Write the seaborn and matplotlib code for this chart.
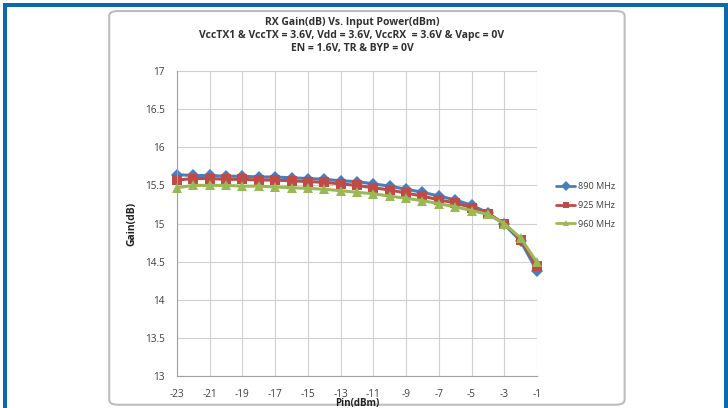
"""
RX gain vs. input power for three frequencies, styled like an Excel chart.
"""

import matplotlib.pyplot as plt
import matplotlib.patches as mpatches
import numpy as np
import pandas as pd
import seaborn as sns
from matplotlib.ticker import MultipleLocator

# ---------------------------------------------------------------------------
# Data
# ---------------------------------------------------------------------------

pin_dbm = [-23, -22, -21, -20, -19, -18, -17, -16, -15, -14, -13, -12,
           -11, -10, -9, -8, -7, -6, -5, -4, -3, -2, -1]

gain_890 = [15.64, 15.63, 15.63, 15.62, 15.62, 15.61, 15.61, 15.60, 15.59,
            15.58, 15.56, 15.55, 15.52, 15.49, 15.45, 15.41, 15.36, 15.31,
            15.24, 15.14, 14.99, 14.77, 14.38]
gain_925 = [15.57, 15.59, 15.59, 15.58, 15.58, 15.57, 15.57, 15.56, 15.55,
            15.54, 15.52, 15.50, 15.47, 15.44, 15.40, 15.36, 15.31, 15.27,
            15.21, 15.13, 15.00, 14.79, 14.44]
gain_960 = [15.47, 15.50, 15.50, 15.50, 15.49, 15.49, 15.48, 15.47, 15.46,
            15.45, 15.43, 15.41, 15.39, 15.36, 15.33, 15.30, 15.26, 15.22,
            15.17, 15.12, 15.00, 14.81, 14.49]

series_names = ["890 MHz", "925 MHz", "960 MHz"]
series_colors = ["#4A7EBB", "#BE4B48", "#98B954"]
series_markers = ["D", "s", "^"]

x_ticks = [-23, -21, -19, -17, -15, -13, -11, -9, -7, -5, -3, -1]

title_lines = [
    "RX Gain(dB) Vs. Input Power(dBm)",
    "VccTX1 & VccTX = 3.6V, Vdd = 3.6V, VccRX  = 3.6V & Vapc = 0V",
    "EN = 1.6V, TR & BYP = 0V",
]

# ---------------------------------------------------------------------------
# Tidy frame
# ---------------------------------------------------------------------------

df = pd.concat(
    [
        pd.DataFrame({"Pin": pin_dbm, "Gain": g, "Freq": name})
        for name, g in zip(series_names, [gain_890, gain_925, gain_960])
    ],
    ignore_index=True,
)

# ---------------------------------------------------------------------------
# Figure
# ---------------------------------------------------------------------------

sns.set_style("white")
plt.rcParams["font.family"] = ["Open Sans", "DejaVu Sans"]
plt.rcParams["axes.unicode_minus"] = False

fig = plt.figure(figsize=(7.28, 4.08), dpi=100)

# outer blue frame
for rect in [(0.004, 0.0, 0.0055, 0.993), (0.9945, 0.0, 0.0055, 0.993),
             (0.004, 0.983, 0.996, 0.01)]:
    fig.patches.append(mpatches.Rectangle(
        rect[:2], rect[2], rect[3], transform=fig.transFigure,
        facecolor="#0B6AAE", edgecolor="none", zorder=-2))

# chart area (rounded, grey border)
fig.patches.append(mpatches.FancyBboxPatch(
    (0.150, 0.008), 0.708, 0.965, boxstyle="round,pad=0,rounding_size=0.012",
    transform=fig.transFigure, facecolor="white", edgecolor="#BDBDBD",
    linewidth=1.5, zorder=-1))

ax = fig.add_axes([0.2431, 0.0784, 0.4945, 0.7475])
ax.set_zorder(2)
ax.patch.set_alpha(0)

sns.lineplot(
    data=df, x="Pin", y="Gain", hue="Freq", style="Freq",
    palette=dict(zip(series_names, series_colors)),
    markers=dict(zip(series_names, series_markers)),
    dashes=False, markersize=6.5, markeredgewidth=0, linewidth=2.2,
    ax=ax, legend=False, clip_on=False,
)

ax.set_xlim(-23, -1)
ax.set_ylim(13, 17)
ax.set_xticks(x_ticks)
ax.set_yticks(np.arange(13, 17.01, 0.5))
ax.set_yticklabels(["13", "13.5", "14", "14.5", "15", "15.5", "16", "16.5", "17"])
ax.xaxis.set_minor_locator(MultipleLocator(1))
ax.yaxis.set_minor_locator(MultipleLocator(0.1))

ax.grid(True, which="major", color="#D0D0D0", linewidth=0.8)
ax.set_axisbelow(True)
for side in ["top", "right"]:
    ax.spines[side].set_visible(False)
for side in ["left", "bottom"]:
    ax.spines[side].set_color("#A0A0A0")
    ax.spines[side].set_linewidth(0.8)

ax.tick_params(which="major", direction="out", length=4, color="#909090",
               labelsize=7.2, labelcolor="#404040", pad=5)
ax.tick_params(which="minor", direction="inout", length=3.5, color="#909090",
               width=0.7)

ax.set_xlabel("Pin(dBm)", fontsize=7, fontweight="bold", labelpad=-1,
              color="#202020")
ax.set_ylabel("Gain(dB)", fontsize=7.5, fontweight="bold", labelpad=5,
              color="#202020")

# title block
for i, line in enumerate(title_lines):
    fig.text(0.4835, 0.944 - i * 0.031, line, ha="center", va="center",
             fontsize=7.5, fontweight="bold", color="#303030")

# legend
handles = [
    plt.Line2D([], [], color=c, marker=m, markersize=5, markeredgewidth=0,
               linewidth=2)
    for c, m in zip(series_colors, series_markers)
]
fig.legend(handles, series_names, loc="center left",
           bbox_to_anchor=(0.752, 0.497), frameon=False, fontsize=6.5,
           labelcolor="#404040", handlelength=2.2, labelspacing=1.1,
           handletextpad=0.3)

fig.savefig("out.png", dpi=100)
plt.close(fig)
